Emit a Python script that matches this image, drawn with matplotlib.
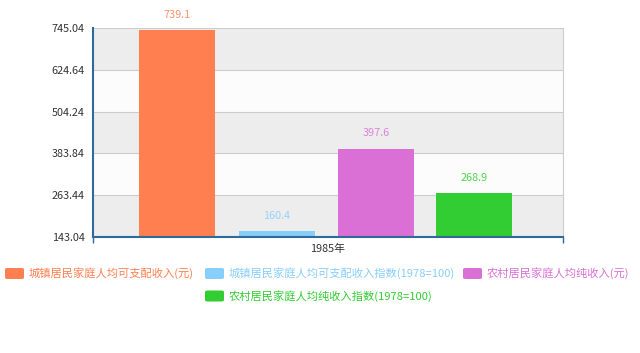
import numpy as np
import matplotlib
matplotlib.use('Agg')
import matplotlib.pyplot as plt
from matplotlib.patches import FancyBboxPatch

plt.rcParams['font.family'] = ['Noto Sans CJK SC', 'DejaVu Sans']

# data
category = '1985年'
series_names = ['城镇居民家庭人均可支配收入(元)', '城镇居民家庭人均可支配收入指数(1978=100)',
                '农村居民家庭人均纯收入(元)', '农村居民家庭人均纯收入指数(1978=100)']
values = [739.1, 160.4, 397.6, 268.9]
colors = ['#FF7F50', '#87CEFA', '#DA70D6', '#32CD32']
y_ticks = [143.04, 263.44, 383.84, 504.24, 624.64, 745.04]

W, H = 640, 353
fig = plt.figure(figsize=(W / 100, H / 100), dpi=100)
ax = fig.add_axes([93 / W, 1 - 237 / H, (563 - 93) / W, (237 - 28) / H])

ymin, ymax = y_ticks[0], y_ticks[-1]
ax.set_xlim(0, 470)
ax.set_ylim(ymin, ymax)

# alternating bands
for i in range(len(y_ticks) - 1):
    c = '#EDEDED' if (len(y_ticks) - 2 - i) % 2 == 0 else '#FCFCFC'
    ax.axhspan(y_ticks[i], y_ticks[i + 1], color=c, zorder=0, lw=0)
for t in y_ticks[1:]:
    ax.axhline(t, color='#CCCCCC', lw=0.8, zorder=1)

bar_w = 76
starts = [46, 146, 245, 343]
for x0, v, c in zip(starts, values, colors):
    ax.bar(x0 + bar_w / 2, v - ymin, bottom=ymin, width=bar_w, color=c, zorder=2)
    ax.text(x0 + bar_w / 2, v + 30, f'{v}', color=c, ha='center', va='bottom',
            fontsize=7.8, alpha=0.85)

ax.set_yticks(y_ticks)
ax.set_yticklabels([f'{t:.2f}' for t in y_ticks], fontsize=7.8, color='#333333')
ax.set_xticks([0, 470])
ax.set_xticklabels(['', ''])
ax.tick_params(axis='x', length=4, color='#2F6A9A', width=1)
ax.tick_params(axis='y', length=0, pad=6)
ax.text(235, ymin - 20, category, ha='center', va='top', fontsize=7.8, color='#333333')

for s in ['left', 'bottom']:
    ax.spines[s].set_color('#2F6A9A')
    ax.spines[s].set_linewidth(1.5)
ax.spines['right'].set_color('#CCCCCC')
ax.spines['right'].set_linewidth(0.8)
ax.spines['top'].set_visible(False)
ax.spines['left'].set_zorder(5)

# legend font size fitted so the first label is about 165 px wide
renderer = fig.canvas.get_renderer()
probe = fig.text(0, 0, series_names[0], fontsize=10)
w10 = probe.get_window_extent(renderer).width
probe.remove()
legend_fs = 10 * 165 / w10

# legend laid out by hand
legend_pos = [(5, 273.5), (205, 273.5), (463, 273.5), (205, 296)]
for (lx, ly), name, c in zip(legend_pos, series_names, colors):
    p = FancyBboxPatch((lx / W, 1 - (ly + 5.5) / H), 19 / W, 11 / H,
                       boxstyle='round,pad=0,rounding_size=0.004',
                       transform=fig.transFigure, color=c, lw=0)
    fig.add_artist(p)
    fig.text((lx + 24) / W, 1 - ly / H, name, color=c, fontsize=legend_fs,
             ha='left', va='center')

fig.savefig('out.png', dpi=100)
